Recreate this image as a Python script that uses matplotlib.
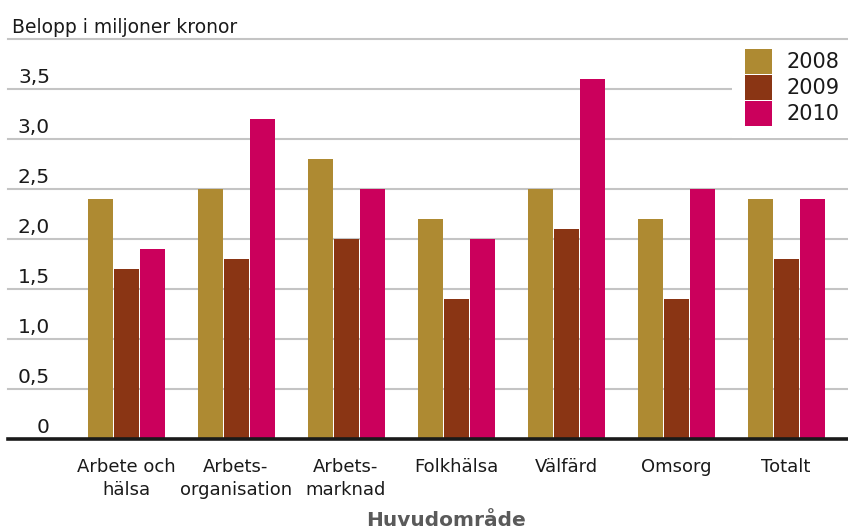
import matplotlib
matplotlib.use("Agg")
import matplotlib.pyplot as plt
import matplotlib.transforms as mtransforms
import numpy as np

categories = ["Arbete och\nhälsa", "Arbets-\norganisation", "Arbets-\nmarknad",
              "Folkhälsa", "Välfärd", "Omsorg", "Totalt"]
years = ["2008", "2009", "2010"]
v2008 = [2.4, 2.5, 2.8, 2.2, 2.5, 2.2, 2.4]
v2009 = [1.7, 1.8, 2.0, 1.4, 2.1, 1.4, 1.8]
v2010 = [1.9, 3.2, 2.5, 2.0, 3.6, 2.5, 2.4]
yticks = [0, 0.5, 1.0, 1.5, 2.0, 2.5, 3.0, 3.5, 4.0]
ytick_labels = ["0", "0,5", "1,0", "1,5", "2,0", "2,5", "3,0", "3,5"]

colors = ["#AE8A32", "#8A3514", "#CB005C"]

plt.rcParams['font.family'] = ['DejaVu Sans']

W, H = 848, 529
fig = plt.figure(figsize=(W / 100, H / 100), dpi=100)
ax = fig.add_axes([8 / W, 90 / H, 840 / W, 400 / H])

x = np.arange(len(categories))
bw = 25 / 110
step = 26 / 110
series = [v2008, v2009, v2010]
for i, (vals, col, yr) in enumerate(zip(series, colors, years)):
    ax.bar(x + (i - 1) * step, vals, width=bw, color=col, label=yr, zorder=3)

ax.set_xlim(-118 / 110, 6 + 62 / 110)
ax.set_ylim(0, 4.0)

for y in yticks[1:]:
    ax.axhline(y, color="#c4c4c4", lw=1.5, zorder=(8 if y == 4.0 else 1),
               clip_on=False)

ax.set_yticks([])
ax.set_xticks(x)
ax.set_xticklabels(categories, fontsize=13, color="#1a1a1a", linespacing=1.3)
ax.tick_params(axis="x", length=0, pad=14)

for s in ["left", "right", "top"]:
    ax.spines[s].set_visible(False)
ax.spines["bottom"].set_linewidth(2.6)
ax.spines["bottom"].set_color("#1a1a1a")
ax.spines["bottom"].set_zorder(5)

trans = mtransforms.blended_transform_factory(ax.transAxes, ax.transData)
off = mtransforms.ScaledTranslation(0, 6 / 100, fig.dpi_scale_trans)
for y, lab in zip(yticks, ytick_labels):
    ax.text(42 / 840, y, lab, transform=trans + off, ha="right", va="baseline",
            fontsize=14.5, color="#1a1a1a")

ax.text(4 / 840, 4.0, "Belopp i miljoner kronor", transform=trans + off,
        ha="left", va="baseline", fontsize=13.5, color="#1a1a1a")

fig.text(446 / W, 1 - 520 / H, "Huvudområde", ha="center", va="center",
         fontsize=14.5, fontweight="bold", color="#5a5a5a")

leg = ax.legend(loc="upper right", bbox_to_anchor=(1 + 4 / 840, 1 + 3 / 400),
                frameon=True, fontsize=15, handlelength=1.3, handleheight=1.47,
                labelspacing=0.05, handletextpad=0.7, borderpad=0.6,
                borderaxespad=0.0)
leg.get_frame().set_facecolor("white")
leg.get_frame().set_edgecolor("none")
leg.get_frame().set_alpha(1)
leg.get_frame().set_boxstyle("square", pad=0)
leg.set_zorder(6)
for t in leg.get_texts():
    t.set_color("#1a1a1a")

fig.savefig("out.png", dpi=100)
